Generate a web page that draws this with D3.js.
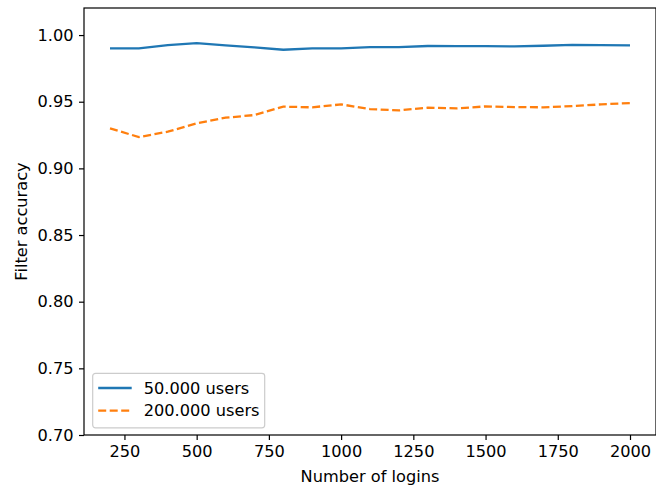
<!DOCTYPE html>
<html>
<head>
<meta charset="utf-8">
<script src="https://cdn.jsdelivr.net/npm/d3@7"></script>
<style>
  body { margin: 0; background: #fff; }
  svg text { font-family: "DejaVu Sans", sans-serif; fill: #000; }
</style>
</head>
<body>
<svg id="chart" width="656" height="488"></svg>
<script>
// data
var logins = [200, 300, 400, 500, 600, 700, 800, 900, 1000, 1100,
  1200, 1300, 1400, 1500, 1600, 1700, 1800, 1900, 2000];
var users50k = [0.990, 0.990, 0.9925, 0.994, 0.9922, 0.9908, 0.989, 0.990, 0.990, 0.991,
  0.991, 0.9918, 0.9917, 0.9917, 0.9915, 0.992, 0.9927, 0.9925, 0.9923];
var users200k = [0.930, 0.9235, 0.9275, 0.9338, 0.938, 0.940, 0.9463, 0.9458, 0.948, 0.9445,
  0.9435, 0.9455, 0.945, 0.9465, 0.946, 0.9458, 0.9467, 0.948, 0.949];
var xTicks = [250, 500, 750, 1000, 1250, 1500, 1750, 2000];
var yTicks = [0.70, 0.75, 0.80, 0.85, 0.90, 0.95, 1.00];
var seriesNames = ["50.000 users", "200.000 users"];

var svg = d3.select("#chart"),
  m = {left: 84, right: 656, top: 8, bottom: 435},
  fs = "16.2px";

var x = d3.scaleLinear()
  .domain([110, 2090])
  .range([m.left, m.right]);

var y = d3.scaleLinear()
  .domain([0.70, 1.0203])
  .range([m.bottom, m.top]);

var line = d3.line()
  .x(function (d, i) { return x(logins[i]); })
  .y(function (d) { return y(d); });

var series = [
  {name: seriesNames[0], values: users50k, color: "#1f77b4", dash: null},
  {name: seriesNames[1], values: users200k, color: "#ff7f0e", dash: "8,3.5"}
];

// lines
svg.append("g")
  .selectAll("path")
  .data(series)
  .enter().append("path")
    .attr("d", function (d) { return line(d.values); })
    .attr("fill", "none")
    .attr("stroke", function (d) { return d.color; })
    .attr("stroke-width", 2.3)
    .attr("stroke-dasharray", function (d) { return d.dash; });

// axes
var xAxis = svg.append("g")
  .attr("transform", "translate(0," + m.bottom + ")")
  .call(d3.axisBottom(x).tickValues(xTicks).tickSize(5).tickPadding(5.5)
    .tickFormat(d3.format("d")));

var yAxis = svg.append("g")
  .attr("transform", "translate(" + m.left + ",0)")
  .call(d3.axisLeft(y).tickValues(yTicks).tickSize(5).tickPadding(5.5)
    .tickFormat(d3.format(".2f")));

[xAxis, yAxis].forEach(function (a) {
  a.select(".domain").remove();
  a.selectAll(".tick line").attr("stroke", "#000").attr("stroke-width", 1.2);
  a.selectAll(".tick text").style("font-size", fs).attr("fill", "#000");
});

// frame
svg.append("rect")
  .attr("x", m.left)
  .attr("y", m.top)
  .attr("width", m.right - m.left)
  .attr("height", m.bottom - m.top)
  .attr("fill", "none")
  .attr("stroke", "#000")
  .attr("stroke-width", 1.2);

// axis labels
svg.append("text")
  .attr("x", (m.left + m.right) / 2)
  .attr("y", 482)
  .attr("text-anchor", "middle")
  .style("font-size", fs)
  .text("Number of logins");

svg.append("text")
  .attr("transform", "translate(27," + (m.top + m.bottom) / 2 + ") rotate(-90)")
  .attr("text-anchor", "middle")
  .style("font-size", fs)
  .text("Filter accuracy");

// legend
var legend = svg.append("g").attr("transform", "translate(92.7,373.3)");

legend.append("rect")
  .attr("width", 172)
  .attr("height", 54.5)
  .attr("rx", 2.8)
  .attr("fill", "#fff")
  .attr("fill-opacity", 0.8)
  .attr("stroke", "#cccccc")
  .attr("stroke-width", 1.2);

var item = legend.selectAll("g.item")
  .data(series)
  .enter().append("g")
    .attr("class", "item")
    .attr("transform", function (d, i) { return "translate(0," + (14.7 + i * 22.6) + ")"; });

item.append("line")
  .attr("x1", 5.5)
  .attr("x2", 39)
  .attr("stroke", function (d) { return d.color; })
  .attr("stroke-width", 2.3)
  .attr("stroke-dasharray", function (d) { return d.dash; });

item.append("text")
  .attr("x", 51)
  .attr("dy", "0.36em")
  .style("font-size", fs)
  .text(function (d) { return d.name; });
</script>
</body>
</html>
